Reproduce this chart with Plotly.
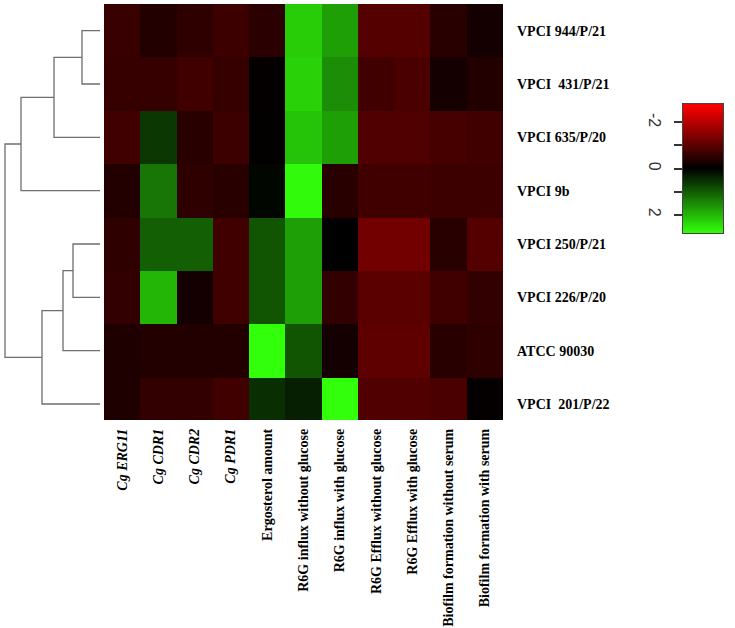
import numpy as np
import plotly.graph_objects as go

# ---------------- data ----------------
columns = ["Cg ERG11", "Cg CDR1", "Cg CDR2", "Cg PDR1", "Ergosterol amount",
           "R6G influx without glucose", "R6G influx with glucose",
           "R6G Efflux without glucose", "R6G Efflux with glucose",
           "Biofilm formation without serum", "Biofilm formation with serum"]
italic_cols = ["Cg ERG11", "Cg CDR1", "Cg CDR2", "Cg PDR1"]

strains = ["VPCI 944/P/21", "VPCI  431/P/21", "VPCI 635/P/20", "VPCI 9b",
           "VPCI 250/P/21", "VPCI 226/P/20", "ATCC 90030", "VPCI  201/P/22"]

row_944 = [-0.63, -0.38, -0.50, -0.66, -0.46, 2.25, 1.75, -0.93, -0.93, -0.44, -0.22]
row_431 = [-0.60, -0.60, -0.71, -0.60, -0.05, 2.30, 1.55, -0.71, -0.82, -0.22, -0.38]
row_635 = [-0.71, 0.60, -0.44, -0.66, -0.03, 2.15, 1.75, -0.88, -0.88, -0.77, -0.71]
row_9b = [-0.38, 1.30, -0.50, -0.44, 0.08, 2.75, -0.44, -0.71, -0.71, -0.66, -0.66]
row_250 = [-0.50, 1.05, 1.05, -0.71, 0.93, 1.75, 0.00, -1.26, -1.26, -0.44, -0.93]
row_226 = [-0.55, 2.00, -0.22, -0.71, 0.93, 1.75, -0.55, -0.99, -0.99, -0.71, -0.55]
row_atcc = [-0.33, -0.38, -0.38, -0.38, 2.80, 0.93, -0.22, -1.04, -1.04, -0.44, -0.50]
row_201 = [-0.33, -0.55, -0.55, -0.71, 0.50, 0.33, 2.80, -0.88, -0.88, -0.82, -0.05]
values = [row_944, row_431, row_635, row_9b, row_250, row_226, row_atcc, row_201]

# dendrogram linkage (leaves 0..7 = strains in row order, internal nodes 8..)
merge_left = [0, 8, 9, 4, 11, 12, 10]
merge_right = [1, 2, 3, 5, 6, 7, 13]
merge_height = [18, 46, 79, 27, 37, 58, 95]

zmin, zmax = -2.8, 2.8
key_ticks = [-2, -1, 0, 1, 2]
key_ticktext = ["-2", "", "0", "", "2"]

# ---------------- figure ----------------
W, H = 735, 628
colorscale = [[0.0, "rgb(255,0,0)"], [0.5, "rgb(0,0,0)"], [1.0, "rgb(50,255,10)"]]
row_pos = list(range(len(strains)))

fig = go.Figure()

fig.add_trace(go.Heatmap(
    z=values, x=columns, y=row_pos, colorscale=colorscale, zmin=zmin, zmax=zmax,
    showscale=False, xaxis="x", yaxis="y", xgap=0, ygap=0,
    customdata=[[s] * len(columns) for s in strains],
    hovertemplate="%{customdata}<br>%{x}: %{z}<extra></extra>"))

# dendrogram
node_y = {i: float(i) for i in row_pos}
node_h = {i: 0.0 for i in row_pos}
dx, dy = [], []
for k, (a, b, h) in enumerate(zip(merge_left, merge_right, merge_height)):
    nid = len(strains) + k
    dx += [node_h[a], h, h, node_h[b], None]
    dy += [node_y[a], node_y[a], node_y[b], node_y[b], None]
    node_y[nid] = (node_y[a] + node_y[b]) / 2
    node_h[nid] = h
fig.add_trace(go.Scatter(x=dx, y=dy, mode="lines", xaxis="x2", yaxis="y",
                         line=dict(color="#6e6e6e", width=1.3), hoverinfo="skip",
                         showlegend=False))

# colour key
key_levels = np.linspace(zmin, zmax, 141)
fig.add_trace(go.Heatmap(
    z=[[v] for v in key_levels], x=[0], y=key_levels, colorscale=colorscale,
    zmin=zmin, zmax=zmax, showscale=False, xaxis="x3", yaxis="y3", hoverinfo="skip"))

serif = "Liberation Serif"
ticktext_x = [("<b><i>%s</i></b>" % c) if c in italic_cols else ("<b>%s</b>" % c) for c in columns]

fig.update_layout(
    width=W, height=H, autosize=False,
    margin=dict(l=0, r=0, t=0, b=0),
    paper_bgcolor="white", plot_bgcolor="white",
    showlegend=False,
    xaxis=dict(domain=[104 / W, 503 / W], anchor="y", tickmode="array",
               tickvals=columns, ticktext=ticktext_x, tickangle=-90,
               ticks="", ticklabelstandoff=5, showgrid=False, zeroline=False,
               tickfont=dict(family=serif, size=14, color="black")),
    yaxis=dict(domain=[1 - 420 / H, 1 - 4 / H], anchor="x", side="right",
               range=[7.3, -0.5], tickmode="array", tickvals=row_pos,
               ticktext=["<b>%s</b>" % s for s in strains], ticks="",
               ticklabelstandoff=13, showgrid=False, zeroline=False,
               tickfont=dict(family=serif, size=14, color="black")),
    xaxis2=dict(domain=[0, 100 / W], anchor="y", range=[100, 0], visible=False,
                showgrid=False, zeroline=False),
    xaxis3=dict(domain=[683 / W, 723 / W], anchor="y3", visible=True,
                showticklabels=False, ticks="", showgrid=False, zeroline=False,
                showline=True, mirror=True, linecolor="#444", linewidth=1,
                range=[-0.5, 0.5]),
    yaxis3=dict(domain=[1 - 233 / H, 1 - 104 / H], anchor="x3", side="left",
                range=[2.8, -2.8], tickmode="array", tickvals=key_ticks,
                ticktext=key_ticktext, ticks="outside", ticklen=8, tickwidth=1.5,
                tickcolor="#333", tickangle=90, showgrid=False, zeroline=False,
                showline=True, mirror=True, linecolor="#444", linewidth=1,
                ticklabelstandoff=6,
                tickfont=dict(family="Liberation Sans", size=16, color="#333")),
)

fig.write_html("out.html")
